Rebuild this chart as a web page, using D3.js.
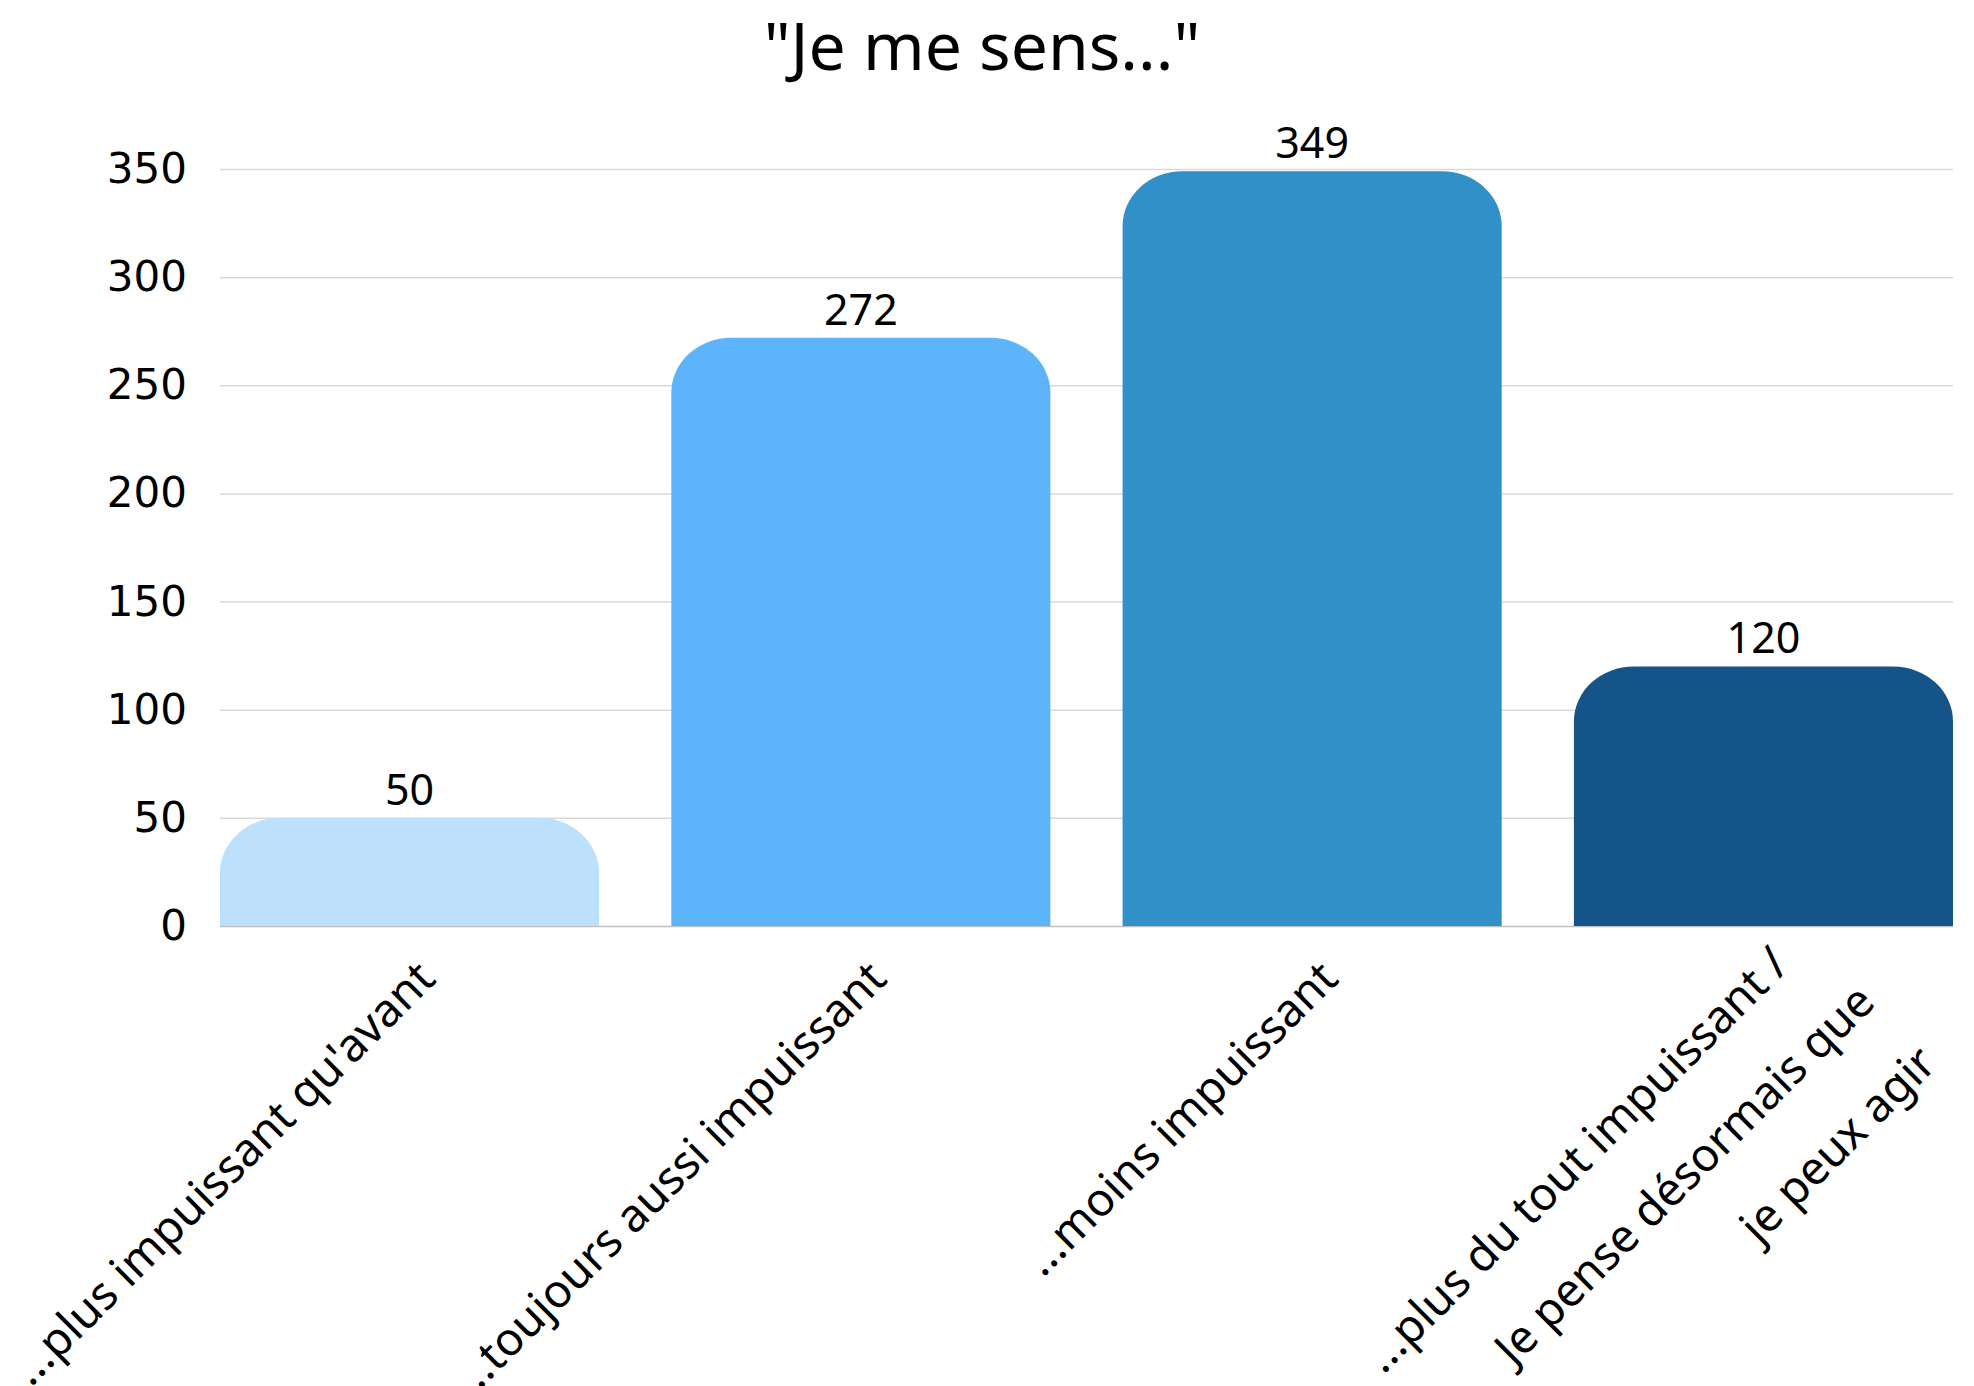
<!DOCTYPE html>
<html>
<head>
    <meta charset="utf-8">
    <title>Je me sens...</title>
    <script src="https://d3js.org/d3.v7.min.js"></script>
    <style>
        body {
            margin: 0;
            background-color: #ffffff;
        }
        .title {
            font-family: "Noto Sans", sans-serif;
            font-size: 66px;
        }
        .ytick text {
            font-family: "DejaVu Sans", sans-serif;
            font-size: 42px;
            fill: #000;
        }
        .value {
            font-family: "Noto Sans", sans-serif;
            font-size: 43px;
        }
        .xlabel {
            font-family: "Noto Sans", sans-serif;
            font-size: 46px;
        }
    </style>
</head>
<body>
    <div id="chart"></div>
    <script>

        // data
        var categories = ["c1", "c2", "c3", "c4"];
        var labels = [
            ["...plus impuissant qu'avant"],
            ["...toujours aussi impuissant"],
            ["...moins impuissant"],
            ["...plus du tout impuissant /", "Je pense désormais que", "je peux agir"]
        ];
        var values = [50, 272, 349, 120];
        var colors = ["#bde1fd", "#5eb4fb", "#3190c7", "#155488"];
        var yTicks = [0, 50, 100, 150, 200, 250, 300, 350];

        // set the dimensions and margins of the graph
        var W = 1974, H = 1386;
        var margin = { top: 169, right: 21, bottom: 460, left: 220 },
            width = W - margin.left - margin.right,
            height = H - margin.top - margin.bottom;

        var svg = d3.select("#chart")
            .append("svg")
            .attr("width", W)
            .attr("height", H);

        svg.append("text")
            .attr("class", "title")
            .attr("x", W / 2 - 5)
            .attr("y", 70)
            .attr("text-anchor", "middle")
            .text("\"Je me sens...\"");

        var g = svg.append("g")
            .attr("transform", "translate(" + margin.left + "," + margin.top + ")");

        var x = d3.scaleBand()
            .domain(categories)
            .range([0, width])
            .paddingInner(0.16)
            .paddingOuter(0);

        var y = d3.scaleLinear()
            .domain([0, 350])
            .range([height, 0]);

        // gridlines
        var grid = g.append("g")
            .call(d3.axisLeft(y).tickValues(yTicks).tickSize(-width).tickFormat(""));
        grid.select(".domain").remove();
        grid.selectAll("line")
            .attr("stroke", function (d) { return d === 0 ? "#bfbfbf" : "#d9d9d9"; })
            .attr("stroke-width", 1.5);

        // y axis labels
        var yAxis = g.append("g")
            .attr("class", "ytick")
            .attr("transform", "translate(-33,0)")
            .call(d3.axisLeft(y).tickValues(yTicks).tickSize(0).tickPadding(0));
        yAxis.select(".domain").remove();

        // bars with rounded tops
        var rx = 60, ry = 55;
        function barPath(d, i) {
            var x0 = x(categories[i]), x1 = x0 + x.bandwidth();
            var y0 = y(0), y1 = y(d);
            var r = Math.min(ry, (y0 - y1));
            return "M" + x0 + "," + y0 +
                "L" + x0 + "," + (y1 + r) +
                "A" + rx + "," + r + " 0 0 1 " + (x0 + rx) + "," + y1 +
                "L" + (x1 - rx) + "," + y1 +
                "A" + rx + "," + r + " 0 0 1 " + x1 + "," + (y1 + r) +
                "L" + x1 + "," + y0 + "Z";
        }

        g.selectAll(".bar")
            .data(values)
            .enter()
            .append("path")
            .attr("class", "bar")
            .attr("d", barPath)
            .style("fill", function (d, i) { return colors[i]; });

        // value labels
        g.selectAll(".value")
            .data(values)
            .enter()
            .append("text")
            .attr("class", "value")
            .attr("x", function (d, i) { return x(categories[i]) + x.bandwidth() / 2; })
            .attr("y", function (d) { return y(d) - 13; })
            .attr("text-anchor", "middle")
            .text(function (d) { return d; });

        // rotated category labels
        var lineH = 87;
        var xl = g.selectAll(".xlabel")
            .data(labels)
            .enter()
            .append("text")
            .attr("class", "xlabel")
            .attr("text-anchor", "end")
            .attr("transform", function (d, i) {
                var cx = x(categories[i]) + x.bandwidth() / 2 + 28;
                return "translate(" + cx + "," + (height + 55) + ") rotate(-45)";
            });

        // multi-line labels: first line sits a bit short of the others
        xl.selectAll("tspan")
            .data(function (d) { return d.map(function (t, j) { return { t: t, j: j, n: d.length }; }); })
            .enter()
            .append("tspan")
            .attr("x", function (d) { return d.n > 1 ? (d.j === 0 ? 10 : 44) : 0; })
            .attr("y", function (d) { return d.n > 1 ? d.j * lineH - 10 : 0; })
            .text(function (d) { return d.t; });

    </script>
</body>
</html>
